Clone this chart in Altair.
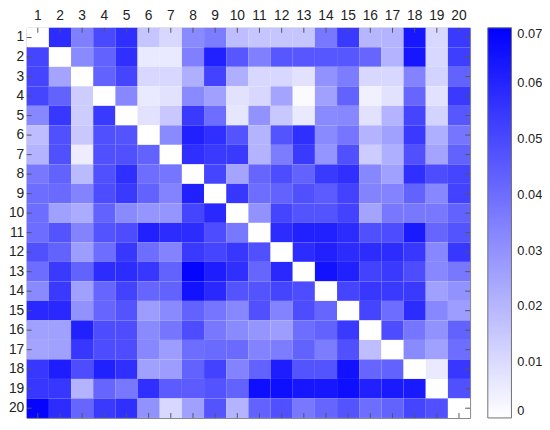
import altair as alt
import pandas as pd

labels = list(range(1, 21))

r1 = [0, .058, .035, .050, .057, .016, .011, .032, .036, .018, .016, .016, .016, .037, .054, .020, .021, .064, .011, .054]
r2 = [.051, 0, .032, .043, .057, .006, .006, .035, .061, .046, .035, .046, .046, .046, .046, .042, .021, .064, .011, .053]
r3 = [.051, .025, 0, .043, .051, .011, .011, .022, .052, .022, .011, .011, .008, .030, .036, .011, .011, .034, .012, .043]
r4 = [.051, .043, .014, 0, .033, .006, .008, .032, .026, .008, .011, .025, .001, .026, .043, .004, .008, .042, .008, .054]
r5 = [.033, .055, .014, .054, 0, .008, .015, .054, .040, .007, .030, .015, .006, .032, .033, .008, .021, .051, .012, .046]
r6 = [.018, .048, .015, .048, .047, 0, .032, .061, .057, .047, .021, .047, .057, .032, .038, .021, .026, .054, .022, .038]
r7 = [.021, .048, .005, .048, .048, .043, 0, .057, .054, .054, .021, .036, .054, .029, .048, .014, .022, .048, .025, .043]
r8 = [.037, .043, .019, .048, .057, .040, .038, 0, .051, .025, .042, .049, .043, .054, .057, .033, .026, .057, .049, .051]
r9 = [.040, .041, .034, .049, .054, .043, .034, .061, 0, .055, .040, .043, .048, .045, .052, .034, .034, .043, .033, .052]
r10 = [.040, .026, .023, .043, .032, .029, .029, .051, .059, 0, .030, .051, .047, .047, .052, .025, .037, .037, .037, .043]
r11 = [.040, .047, .034, .047, .049, .061, .058, .058, .049, .037, 0, .058, .061, .061, .058, .048, .049, .063, .042, .047]
r12 = [.048, .043, .027, .040, .055, .040, .034, .054, .051, .055, .048, 0, .058, .061, .058, .058, .058, .055, .033, .055]
r13 = [.040, .054, .043, .058, .058, .055, .043, .069, .062, .057, .042, .059, 0, .065, .061, .052, .054, .049, .033, .037]
r14 = [.032, .054, .026, .042, .052, .042, .043, .065, .059, .047, .047, .051, .049, 0, .051, .055, .054, .054, .026, .030]
r15 = [.059, .059, .030, .042, .047, .027, .032, .043, .038, .033, .048, .034, .049, .042, 0, .051, .040, .058, .033, .027]
r16 = [.026, .026, .061, .049, .049, .032, .038, .049, .037, .032, .029, .027, .040, .043, .054, 0, .049, .038, .030, .043]
r17 = [.025, .026, .055, .049, .049, .033, .027, .040, .041, .041, .034, .036, .043, .036, .048, .018, 0, .032, .026, .040]
r18 = [.055, .062, .049, .061, .057, .026, .027, .043, .052, .034, .043, .062, .047, .047, .065, .042, .043, 0, .006, .055]
r19 = [.055, .055, .021, .042, .037, .057, .045, .045, .047, .043, .066, .066, .064, .064, .066, .061, .063, .063, 0, .048]
r20 = [.069, .058, .042, .054, .057, .030, .011, .026, .047, .021, .043, .048, .037, .042, .047, .040, .043, .051, .048, 0]

matrix = [r1, r2, r3, r4, r5, r6, r7, r8, r9, r10,
          r11, r12, r13, r14, r15, r16, r17, r18, r19, r20]

records = []
for i, row in enumerate(matrix):
    for j, v in enumerate(row):
        records.append({"row": labels[i], "col": labels[j], "value": v})
df = pd.DataFrame(records)
ticks_df = pd.DataFrame({"col": labels, "row": labels})

FONT = "Liberation Sans"
W, H = 450, 396

xscale = alt.Scale(domain=labels, paddingInner=0, paddingOuter=0)
yscale = alt.Scale(domain=labels, paddingInner=0, paddingOuter=0)
x_axis = alt.Axis(orient="top", labelAngle=0, ticks=False, domain=False,
                  labelPadding=5, title=None)
y_axis = alt.Axis(orient="left", ticks=False, domain=False,
                  labelPadding=3, title=None)

heat = alt.Chart(df).mark_rect().encode(
    x=alt.X("col:O", scale=xscale, axis=x_axis),
    y=alt.Y("row:O", scale=yscale, axis=y_axis),
    color=alt.Color("value:Q",
                    scale=alt.Scale(domain=[0, 0.07], range=["#ffffff", "#0000ff"],
                                    interpolate="rgb"),
                    legend=alt.Legend(
                        title=None, orient="none", legendX=468, legendY=0,
                        direction="vertical",
                        gradientLength=H, gradientThickness=24,
                        gradientStrokeColor="#707070", gradientStrokeWidth=1,
                        values=[0, 0.01, 0.02, 0.03, 0.04, 0.05, 0.06, 0.07],
                        labelExpr="datum.value == 0 ? '0' : format(datum.value, '.2f')",
                        labelFontSize=13, labelFont=FONT, labelColor="#222",
                        labelOffset=6, labelOverlap=False, labelBaseline="middle")),
)

tick_color = "#555555"
top_t = alt.Chart(ticks_df).mark_rule(color=tick_color).encode(
    x=alt.X("col:O", scale=xscale, axis=x_axis), y=alt.value(0), y2=alt.value(5))
bot_t = alt.Chart(ticks_df).mark_rule(color=tick_color).encode(
    x=alt.X("col:O", scale=xscale, axis=x_axis), y=alt.value(H), y2=alt.value(H - 5))
left_t = alt.Chart(ticks_df).mark_rule(color=tick_color).encode(
    y=alt.Y("row:O", scale=yscale, axis=y_axis), x=alt.value(0), x2=alt.value(5))
right_t = alt.Chart(ticks_df).mark_rule(color=tick_color).encode(
    y=alt.Y("row:O", scale=yscale, axis=y_axis), x=alt.value(W), x2=alt.value(W - 5))

chart = alt.layer(heat, top_t, bot_t, left_t, right_t).properties(
    width=W, height=H,
    autosize=alt.AutoSizeParams(type="none"),
    padding={"left": 19, "top": 17, "right": 73, "bottom": 0},
).configure_view(
    stroke="#808080", strokeWidth=1
).configure_axis(
    labelFont=FONT, labelFontSize=14, labelColor="#222"
)

chart.save("out.html", embed_options={"renderer": "svg", "actions": False})
